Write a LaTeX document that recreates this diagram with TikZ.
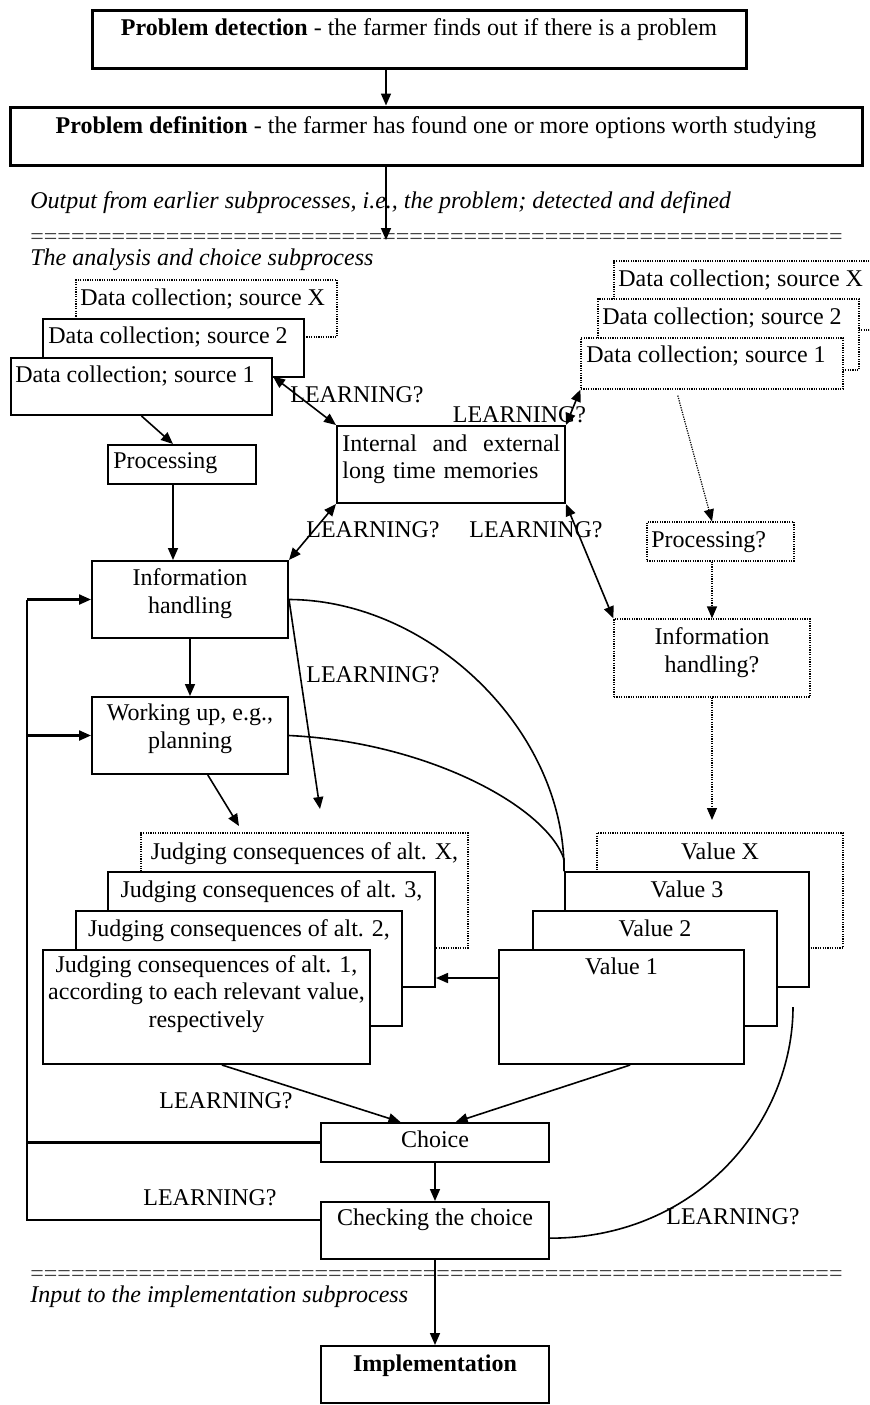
\documentclass[tikz,border=0pt]{standalone}
\usepackage{fontspec}
\setmainfont{Liberation Serif}
\usetikzlibrary{arrows.meta,fit,calc}

\begin{document}
\begin{tikzpicture}[x=0.5pt,y=-0.5pt,
  font=\fontsize{12}{13.6}\selectfont,
  bx/.style={draw, line width=1pt, fill=white, inner sep=0pt},
  dbx/.style={draw, line width=0.6pt, dash pattern=on 0.6pt off 0.6pt, fill=white, inner sep=0pt},
  thickbx/.style={draw, line width=1.5pt, inner sep=0pt},
  txt/.style={inner sep=0pt, anchor=base, align=center},
  ltxt/.style={inner sep=0pt, anchor=base west},
  lbl/.style={inner sep=0pt, anchor=base},
  sepline/.style={inner sep=0pt, anchor=base west, text=black!75},
  con/.style={line width=0.8pt},
  tip/.style={-{Triangle[length=6pt,width=5pt]}},
  arr/.style={con, tip},
  darr/.style={con, {Triangle[length=6pt,width=5pt]}-{Triangle[length=6pt,width=5pt]}},
  dotarr/.style={line width=0.6pt, dash pattern=on 0.6pt off 0.6pt, tip},
  fb/.style={line width=1.1pt},
]
\clip (0,0) rectangle (869,1405);

% ---------- earlier subprocesses ----------
\node[thickbx, fit={(92,10) (746,68)}] (det) {};
\node[txt] (det-t) at (419,35) {\textbf{Problem detection} - the farmer finds out if there is a problem};
\node[thickbx, fit={(10,107) (862,165)}] (def) {};
\node[txt] (def-t) at (436,133) {\textbf{Problem definition} - the farmer has found one or more options worth studying};
\coordinate (axis) at (386,0);

\node[ltxt] (out-t) at (30,208) {\itshape Output from earlier subprocesses, i.e., the problem; detected and defined};
\node[sepline] (sep1) at (30,244) {============================================================};
\node[ltxt] (ana-t) at (30,265) {\itshape The analysis and choice subprocess};
\coordinate (sep1-in) at (386,240);

\draw[arr] (det.south -| axis) -- (def.north -| axis);
\draw[arr] (def.south -| axis) -- (sep1-in);

% ---------- data collection, left stack ----------
\node[dbx, fit={(76,280) (337,337)}] (dcX) {};
\node[ltxt] (dcX-t) at (80,305) {Data collection; source X};
\node[bx, fit={(43,319) (304,377)}] (dc2) {};
\node[ltxt] (dc2-t) at (48,343) {Data collection; source 2};
\node[bx, fit={(11,358) (272,415)}] (dc1) {};
\node[ltxt] (dc1-t) at (15,382) {Data collection; source 1};

% ---------- data collection, right stack ----------
\node[dbx, fit={(614,261) (880,330)}] (rX) {};
\node[ltxt] (rX-t) at (618,286) {Data collection; source X};
\node[dbx, fit={(598,299) (859,370)}] (r2) {};
\node[ltxt] (r2-t) at (602,324) {Data collection; source 2};
\node[dbx, fit={(581,338) (843,389)}] (r1) {};
\node[ltxt] (r1-t) at (586,362) {Data collection; source 1};

% ---------- processing and memories ----------
\node[bx, fit={(108,445) (256,484)}] (proc) {};
\node[ltxt] (proc-t) at (113,468) {Processing};
\node[bx, fit={(337,426) (565,503)}] (mem) {};
\node[inner sep=0pt, anchor=base west, text width=109pt, align=left] (mem-t) at (342,451)
  {Internal\hfill and\hfill external\\long time memories};

\node[dbx, fit={(647,522) (794,561)}] (procQ) {};
\node[ltxt] (procQ-t) at (651,547) {Processing?};
\node[dbx, fit={(614,619) (810,697)}] (infoQ) {};
% multi-line texts: the base anchor sits on the last line
\node[txt] (infoQ-t) at (712,672) {Information\\handling?};

\node[bx, fit={(92,561) (288,638)}] (info) {};
\node[txt] (info-t) at (190,613) {Information\\handling};
\node[bx, fit={(92,697) (288,774)}] (work) {};
\node[txt] (work-t) at (190,748) {Working up, e.g.,\\planning};

% ---------- judging stack ----------
\node[dbx, fit={(141,833) (468,948)}] (jX) {};
\node[txt] (jX-t) at (304.5,859) {Judging consequences of alt. X,};
\node[bx, fit={(108,872) (435,987)}] (j3) {};
\node[txt] (j3-t) at (271.5,897) {Judging consequences of alt. 3,};
\node[bx, fit={(76,911) (402,1026)}] (j2) {};
\node[txt] (j2-t) at (239,936) {Judging consequences of alt. 2,};
\node[bx, fit={(43,950) (370,1064)}] (j1) {};
\node[txt] (j1-t) at (206.5,1027) {Judging consequences of alt. 1,\\according to each relevant value,\\respectively};

% ---------- value stack ----------
\node[dbx, fit={(597,833) (843,948)}] (vX) {};
\node[txt] (vX-t) at (720,859) {Value X};
\node[bx, fit={(565,872) (809,987)}] (v3) {};
\node[txt] (v3-t) at (687,897) {Value 3};
\node[bx, fit={(533,911) (777,1026)}] (v2) {};
\node[txt] (v2-t) at (655,936) {Value 2};
\node[bx, fit={(499,950) (744,1064)}] (v1) {};
\node[txt] (v1-t) at (621.5,974) {Value 1};

% ---------- choice and checking ----------
\node[bx, fit={(321,1123) (549,1162)}] (choice) {};
\node[txt] (choice-t) at (435,1147) {Choice};
\node[bx, fit={(321,1202) (549,1259)}] (check) {};
\node[txt] (check-t) at (435,1225) {Checking the choice};

\node[sepline] (sep2) at (30,1281) {============================================================};
\node[ltxt] (inp-t) at (30,1302) {\itshape Input to the implementation subprocess};

\node[bx, fit={(321,1346) (549,1403)}] (impl) {};
\node[txt] (impl-t) at (435,1371) {\textbf{Implementation}};

% ---------- learning labels ----------
\node[lbl] (L1) at (357,402) {LEARNING?};
\node[lbl] (L2) at (519.5,422) {LEARNING?};
\node[lbl] (L3) at (373,537) {LEARNING?};
\node[lbl] (L4) at (536,537) {LEARNING?};
\node[lbl] (L5) at (373,682) {LEARNING?};
\node[lbl] (L6) at (226,1108) {LEARNING?};
\node[lbl] (L7) at (210,1205) {LEARNING?};
\node[lbl] (L8) at (733,1224) {LEARNING?};

% ---------- connectors ----------
\coordinate (x173) at (173,0);
\draw[arr] (dc1.south) -- ($(proc.north west)!0.44!(proc.north east)$);
\draw[arr] (proc.south -| x173) -- (info.north -| x173);
\draw[darr] ($(dc1.north east)!0.33!(dc1.south east)$) -- (mem.north west);
\draw[darr] (mem.north east) -- (r1.south west);
\draw[darr] (mem.south west) -- (info.north east);
\draw[darr] (mem.south east) -- (infoQ.north west);

\draw[dotarr] ($(r1.south west)!0.37!(r1.south east)+(0,6)$) -- (procQ.north -| infoQ.north);
\draw[dotarr] (procQ.south -| infoQ.north) -- (infoQ.north);
\coordinate (vX-in) at (712,820);
\draw[dotarr] (infoQ.south) -- (vX-in);

\draw[arr] (info.south) -- (work.north);
\coordinate (info-out) at (320,809);
\draw[arr] (info.east) -- (info-out);
\coordinate (work-out) at (239,826);
\draw[arr] ($(work.south west)!0.59!(work.south east)$) -- (work-out);

\draw[con] (info.east) .. controls (430,600) and (565,730) .. (v3.north west);
\draw[con] (work.east) .. controls (425,742) and (545,805) .. ($(v3.north west)+(0,-12)$) -- (v3.north west);

\coordinate (v1-l) at ($(v1.north west)!0.25!(v1.south west)$);
\draw[arr] (v1-l) -- (v1-l -| j3.east);

\draw[arr] ($(j1.south west)!0.547!(j1.south east)$) -- ($(choice.north west)!0.35!(choice.north east)$);
\draw[arr] ($(v1.south west)!0.535!(v1.south east)$) -- ($(choice.north west)!0.59!(choice.north east)$);
\draw[arr] (choice.south) -- (check.north);
\draw[arr] (check.south) -- (impl.north);

\coordinate (check-r) at ($(check.north east)!0.63!(check.south east)$);
\coordinate (loop-top) at (793,1007);
\draw[con] (check-r) .. controls (700,1238) and (793,1120) .. (loop-top);

% ---------- feedback from choice and checking ----------
\coordinate (fbx) at (27,0);
\coordinate (check-l) at ($(check.north west)!0.32!(check.south west)$);
\draw[fb] (check-l) -- (check-l -| fbx) -- (info.west -| fbx);
\draw[fb] (choice.west) -- (choice.west -| fbx);
\draw[fb, tip] (info.west -| fbx) -- (info.west);
\draw[fb, tip] (work.west -| fbx) -- (work.west);
\end{tikzpicture}
\end{document}
